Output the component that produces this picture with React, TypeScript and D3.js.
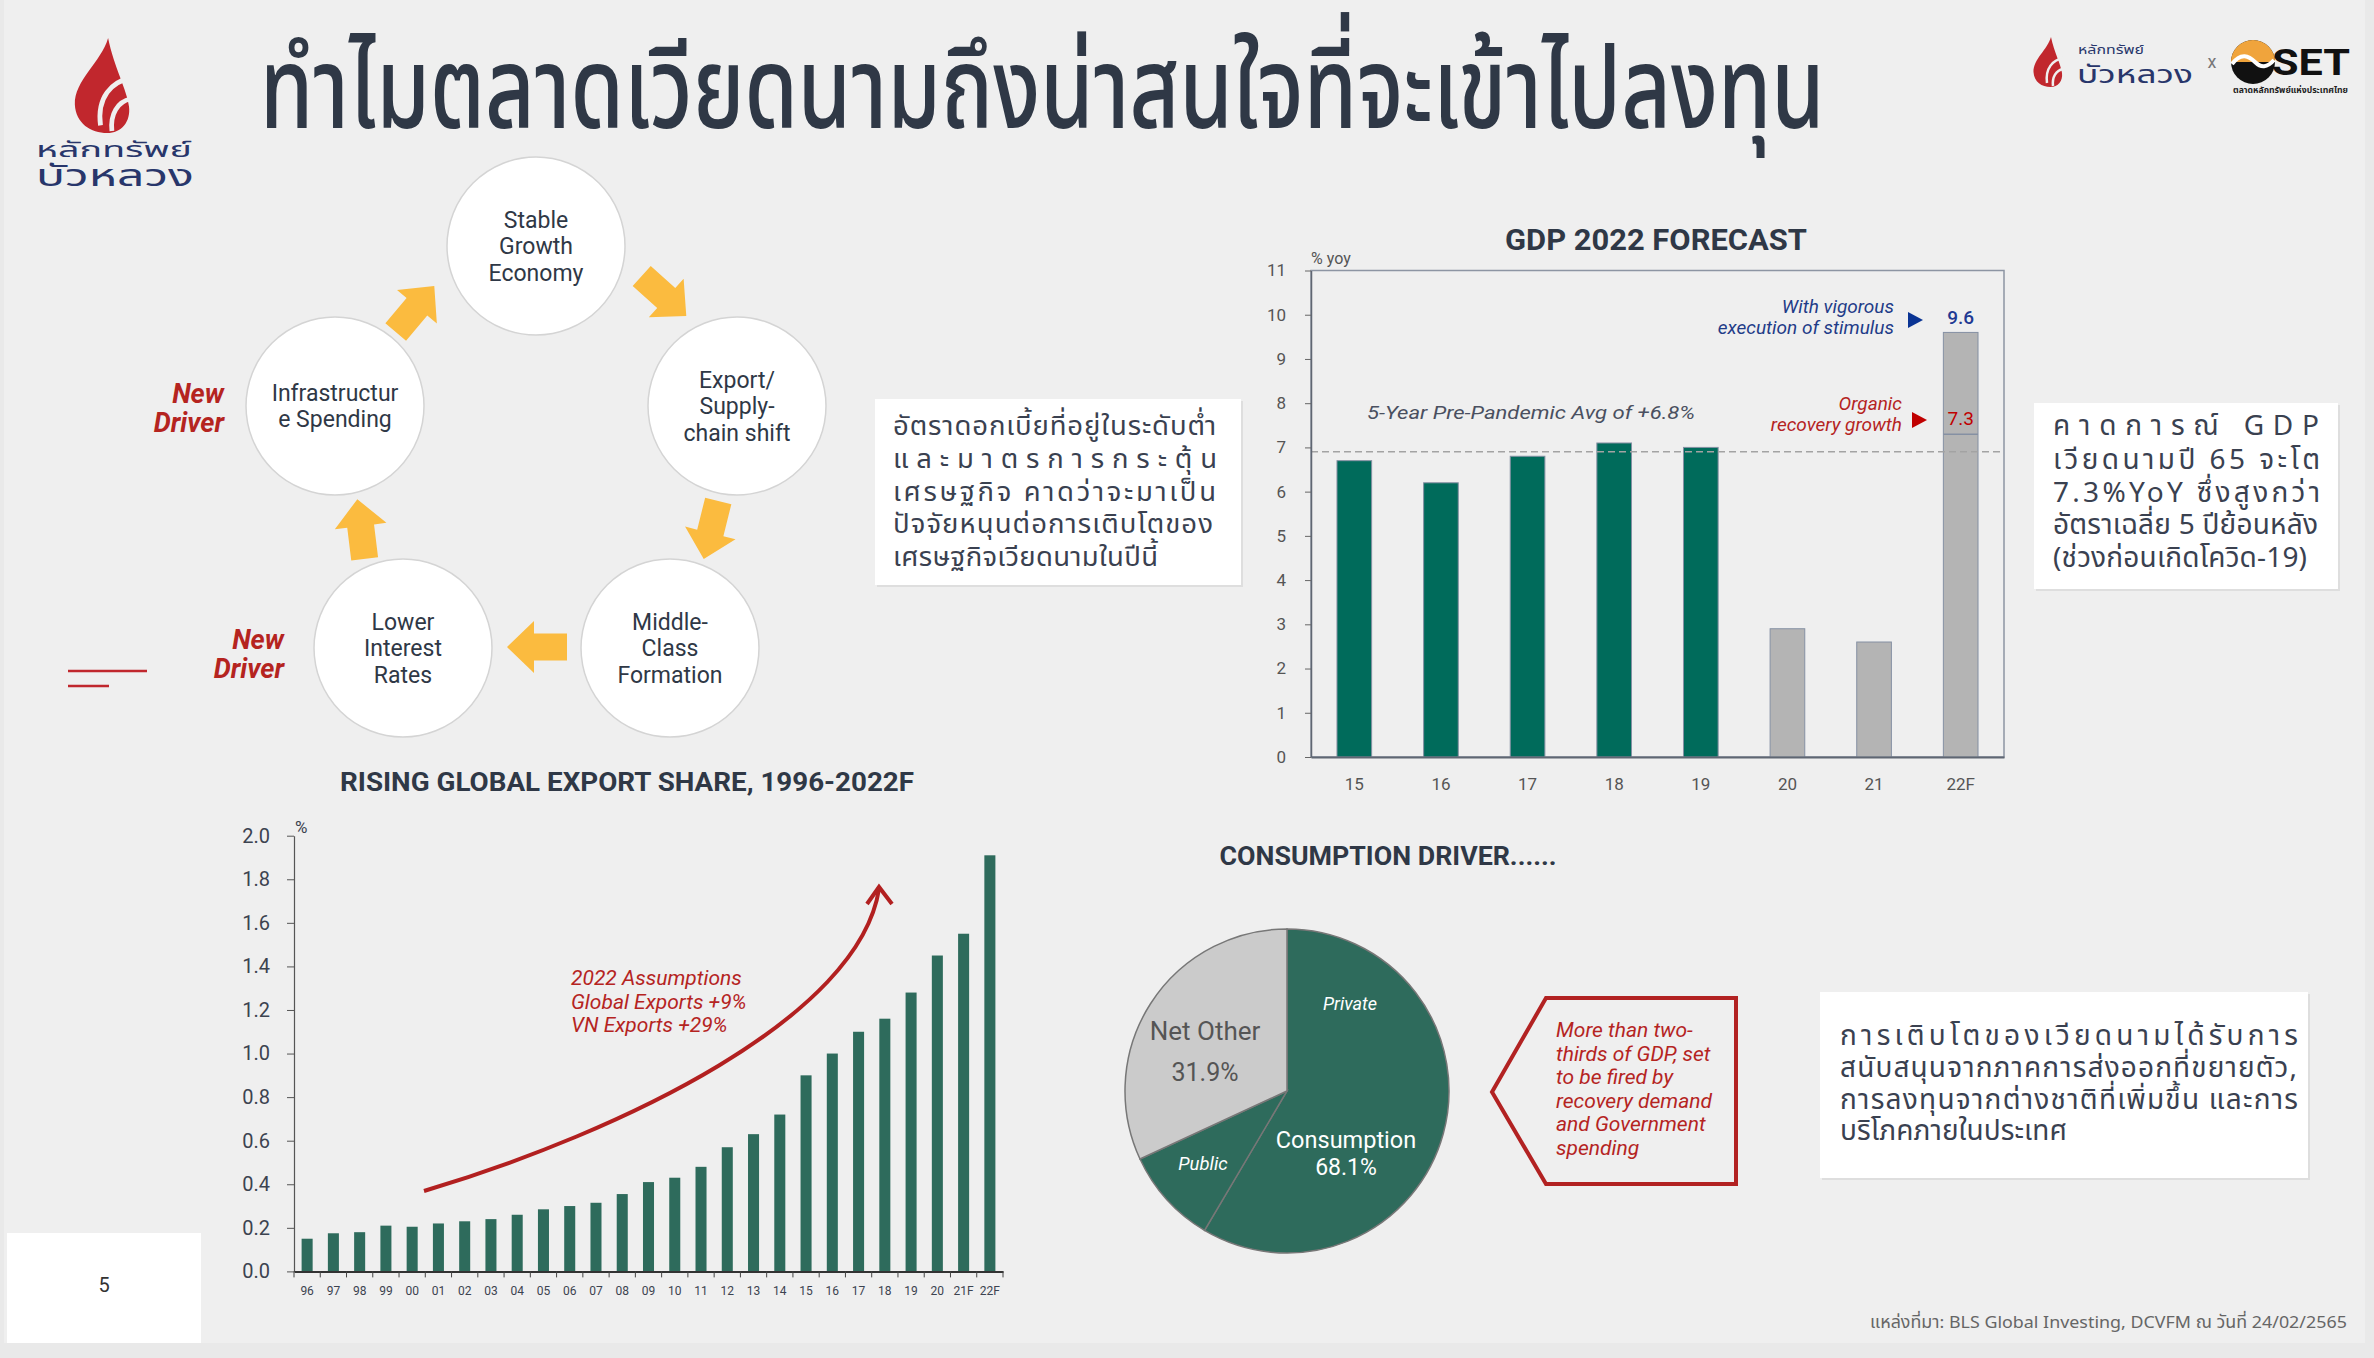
import React, { useEffect, useRef } from 'react';
import * as d3 from 'd3';

const W = 2374;
const H = 1358;

// ---- GDP 2022 forecast (% yoy) ----
const gdpYears = ['15', '16', '17', '18', '19', '20', '21', '22F'];
const gdpValues = [6.7, 6.2, 6.8, 7.1, 7.0, 2.9, 2.6, 9.6];
const gdpActual = [true, true, true, true, true, false, false, false];
const gdpOrganic = 7.3;
const gdpAvg = 6.9;
const gdpTicks = [0, 1, 2, 3, 4, 5, 6, 7, 8, 9, 10, 11];

// ---- Vietnam share of global exports (%) ----
const exportYears = ['96', '97', '98', '99', '00', '01', '02', '03', '04', '05', '06', '07', '08', '09',
  '10', '11', '12', '13', '14', '15', '16', '17', '18', '19', '20', '21F', '22F'];
const exportShare = [0.15, 0.175, 0.18, 0.21, 0.205, 0.22, 0.23, 0.24, 0.26, 0.285, 0.30, 0.315, 0.355, 0.41,
  0.43, 0.48, 0.57, 0.63, 0.72, 0.90, 1.00, 1.10, 1.16, 1.28, 1.45, 1.55, 1.91];
const exportTicks = [0, 0.2, 0.4, 0.6, 0.8, 1.0, 1.2, 1.4, 1.6, 1.8, 2.0];

// ---- consumption pie (% of GDP) ----
const pieLabels = ['Private', 'Public', 'Net Other'];
const pieValues = [58.5, 9.6, 31.9];

// ---- growth cycle ----
const cycleLabels = [
  ['Stable', 'Growth', 'Economy'],
  ['Export/', 'Supply-', 'chain shift'],
  ['Middle-', 'Class', 'Formation'],
  ['Lower', 'Interest', 'Rates'],
  ['Infrastructur', 'e Spending'],
];

const title = 'ทำไมตลาดเวียดนามถึงน่าสนใจที่จะเข้าไปลงทุน';
const box1 = ['อัตราดอกเบี้ยที่อยู่ในระดับต่ำ', 'และมาตรการกระตุ้น', 'เศรษฐกิจ คาดว่าจะมาเป็น', 'ปัจจัยหนุนต่อการเติบโตของ', 'เศรษฐกิจเวียดนามในปีนี้'];
const box2 = ['คาดการณ์ GDP', 'เวียดนามปี 65 จะโต', '7.3%YoY ซึ่งสูงกว่า', 'อัตราเฉลี่ย 5 ปีย้อนหลัง', '(ช่วงก่อนเกิดโควิด-19)'];
const box3 = ['การเติบโตของเวียดนามได้รับการ', 'สนับสนุนจากภาคการส่งออกที่ขยายตัว,', 'การลงทุนจากต่างชาติที่เพิ่มขึ้น และการ', 'บริโภคภายในประเทศ'];
const calloutLines = ['More than two-', 'thirds of GDP, set', 'to be fired by', 'recovery demand', 'and Government', 'spending'];

const EN = "Roboto, 'Noto Sans', sans-serif";
const TH = "'Noto Sans Thai', 'Noto Sans Thai Looped', Sarabun, Loma, Garuda, 'Noto Sans', sans-serif";
const NAVY = '#2f3846';
const GREEN = '#2e6b5c';
const RED = '#b5241f';

type TOpts = { size: number; fill?: string; family?: string; weight?: any; style?: string; anchor?: string; len?: number; adjust?: string };

// Thai marks that sit on a base letter (no spacing of their own)
const isMark = (c: string) => /[\u0E31\u0E34-\u0E3A\u0E47-\u0E4E]/.test(c);

const App: React.FC = () => {
  const ref = useRef<SVGSVGElement>(null);

  useEffect(() => {
    document.body.style.margin = '0';
    const svg = d3.select(ref.current);
    svg.selectAll('*').remove();
    svg.attr('width', W).attr('height', H);

    const text = (g: any, x: number, y: number, s: string, o: TOpts) => {
      const t = g.append('text')
        .attr('x', x).attr('y', y)
        .attr('font-size', o.size)
        .attr('fill', o.fill || NAVY)
        .attr('font-family', o.family || EN)
        .attr('font-weight', o.weight || 400)
        .attr('font-style', o.style || 'normal')
        .attr('text-anchor', o.anchor || 'start')
        .text(s);
      if (o.len) t.attr('textLength', o.len).attr('lengthAdjust', o.adjust || 'spacingAndGlyphs');
      return t;
    };

    // text squeezed/stretched to a width by scaling the whole element
    const fit = (g: any, x: number, y: number, s: string, width: number, o: TOpts) => {
      const t = text(g, 0, 0, s, o);
      const natural = (t.node() as SVGTextElement).getComputedTextLength();
      t.attr('transform', `translate(${x},${y}) scale(${width / natural},1)`);
      return t;
    };

    // justified Thai line: spread with letter-spacing, or squeeze if too long
    const justify = (g: any, x: number, y: number, s: string, target: number, size: number) => {
      const t = text(g, x, y, s, { size, family: TH, fill: '#3a4150' });
      const natural = (t.node() as SVGTextElement).getComputedTextLength();
      const clusters = Array.from(s).filter(c => !isMark(c)).length;
      if (natural > target) {
        t.attr('x', 0).attr('y', 0).attr('transform', `translate(${x},${y}) scale(${target / natural},1)`);
      } else if (clusters > 1) {
        t.attr('letter-spacing', (target - natural) / (clusters - 1));
      }
    };

    // backgrounds
    svg.append('rect').attr('width', W).attr('height', H).attr('fill', '#e9e9e9');
    svg.append('rect').attr('x', 4).attr('y', 0).attr('width', 2361).attr('height', 1343).attr('fill', '#efefef');
    svg.append('rect').attr('x', 7).attr('y', 1233).attr('width', 194).attr('height', 110).attr('fill', '#ffffff');
    text(svg, 104, 1292, '5', { size: 20, anchor: 'middle', fill: '#333' });

    // ---- logos ----
    const flame = (x: number, y: number, s: number) => {
      const g = svg.append('g').attr('transform', `translate(${x},${y}) scale(${s})`);
      g.append('path')
        .attr('d', 'M38,0 C31,25 2,45 3,70 C4,90 20,100 37,100 C52,100 62,88 60,72 C58,55 44,30 38,0 Z')
        .attr('fill', '#c1272d');
      g.append('path').attr('d', 'M62,42 C42,46 26,62 30,92').attr('stroke', '#efefef').attr('stroke-width', 5).attr('fill', 'none');
      g.append('path').attr('d', 'M62,64 C48,67 40,80 42,98').attr('stroke', '#efefef').attr('stroke-width', 5).attr('fill', 'none');
    };
    flame(72, 38, 0.95);
    fit(svg, 36, 157, 'หลักทรัพย์', 156, { size: 22, family: TH, fill: '#28366b' });
    fit(svg, 36, 186, 'บัวหลวง', 158, { size: 30, family: TH, fill: '#28366b' });

    flame(2032, 37, 0.5);
    fit(svg, 2078, 54, 'หลักทรัพย์', 66, { size: 12, family: TH, fill: '#28366b' });
    fit(svg, 2077, 83, 'บัวหลวง', 116, { size: 24, family: TH, fill: '#28366b' });
    text(svg, 2212, 68, 'x', { size: 18, fill: '#777', anchor: 'middle' });
    const setG = svg.append('g').attr('transform', 'translate(2253,62)');
    setG.append('circle').attr('r', 22).attr('fill', '#111');
    setG.append('path').attr('d', 'M-22,0 A22,22 0 0 1 22,0 Z').attr('fill', '#f0a43c');
    setG.append('path').attr('d', 'M-21,2 C-12,-10 -4,-6 2,0 C8,6 14,6 21,-2').attr('stroke', '#fff').attr('stroke-width', 4).attr('fill', 'none');
    fit(svg, 2272, 75, 'SET', 78, { size: 36, weight: 700, fill: '#111' });
    fit(svg, 2233, 93, 'ตลาดหลักทรัพย์แห่งประเทศไทย', 115, { size: 8, family: TH, fill: '#222', weight: 700 });

    // ---- title ----
    fit(svg, 260, 128, title, 1565, { size: 114, family: TH, weight: 500, fill: NAVY });

    // ---- growth cycle ----
    const centers: [number, number][] = [[536, 246], [737, 406], [670, 648], [403, 648], [335, 406]];
    const cyc = svg.append('g');
    cyc.selectAll('circle').data(centers).enter().append('circle')
      .attr('cx', d => d[0]).attr('cy', d => d[1]).attr('r', 89)
      .attr('fill', '#fff').attr('stroke', '#d4d4d4').attr('stroke-width', 1.5);
    cycleLabels.forEach((lines, i) => {
      const [cx, cy] = centers[i];
      const lh = 26.5;
      const y0 = cy - ((lines.length - 1) * lh) / 2 + 8;
      lines.forEach((l, j) => text(cyc, cx, y0 + j * lh, l, { size: 23, anchor: 'middle', fill: NAVY }));
    });
    const arrowPath = 'M-30,-13.5 L3,-13.5 L3,-26 L30,0 L3,26 L3,13.5 L-30,13.5 Z';
    const arrows: [number, number, number][] = [[415, 309, -50], [664, 296, 42], [711, 530, 104], [537, 647, 180], [361, 529, -97]];
    cyc.selectAll('path.arr').data(arrows).enter().append('path').attr('class', 'arr')
      .attr('d', arrowPath)
      .attr('transform', d => `translate(${d[0]},${d[1]}) rotate(${d[2]})`)
      .attr('fill', '#fbbb3f');
    text(svg, 224, 403, 'New', { size: 27, weight: 700, style: 'italic', fill: RED, anchor: 'end' });
    text(svg, 224, 432, 'Driver', { size: 27, weight: 700, style: 'italic', fill: RED, anchor: 'end' });
    text(svg, 284, 649, 'New', { size: 27, weight: 700, style: 'italic', fill: RED, anchor: 'end' });
    text(svg, 284, 678, 'Driver', { size: 27, weight: 700, style: 'italic', fill: RED, anchor: 'end' });
    svg.append('line').attr('x1', 68).attr('x2', 147).attr('y1', 671).attr('y2', 671).attr('stroke', '#c0272d').attr('stroke-width', 2.5);
    svg.append('line').attr('x1', 68).attr('x2', 109).attr('y1', 686).attr('y2', 686).attr('stroke', '#c0272d').attr('stroke-width', 2.5);

    // ---- Thai text boxes ----
    const box = (x: number, y: number, w: number, h: number, lines: string[], tx: number, by: number[], widths: number[], size: number) => {
      svg.append('rect').attr('x', x + 2).attr('y', y + 2).attr('width', w).attr('height', h).attr('fill', '#dedede');
      svg.append('rect').attr('x', x).attr('y', y).attr('width', w).attr('height', h).attr('fill', '#fff');
      lines.forEach((l, i) => justify(svg, tx, by[i], l, widths[i], size));
    };
    box(875, 399, 366, 186, box1, 893, [435, 468, 501, 533, 566], [324, 324, 323, 320, 265], 27.5);
    box(2034, 403, 304, 186, box2, 2053, [435, 469, 502, 534, 567], [266, 267, 267, 265, 254], 28);
    box(1820, 992, 488, 186, box3, 1840, [1045, 1077, 1109, 1140], [458, 457, 458, 227], 28);

    // ---- GDP chart ----
    const gx = d3.scaleBand().domain(gdpYears).range([1311, 2004]).paddingInner(0.6).paddingOuter(0.3);
    const gy = d3.scaleLinear().domain([0, 11]).range([757, 270.5]);
    const gdp = svg.append('g');
    text(gdp, 1656, 250, 'GDP 2022 FORECAST', { size: 29, weight: 700, anchor: 'middle', fill: NAVY, len: 302 });
    text(gdp, 1311, 264, '% yoy', { size: 16, fill: '#555' });
    gdp.append('rect').attr('x', 1311).attr('y', gy(11)).attr('width', 693).attr('height', gy(0) - gy(11))
      .attr('fill', 'none').attr('stroke', '#8d95a3').attr('stroke-width', 1.5);
    gdp.selectAll('rect.bar').data(gdpValues).enter().append('rect').attr('class', 'bar')
      .attr('x', (d, i) => gx(gdpYears[i])!)
      .attr('y', d => gy(d))
      .attr('width', gx.bandwidth())
      .attr('height', d => gy(0) - gy(d))
      .attr('fill', (d, i) => (gdpActual[i] ? '#006b5b' : '#b4b4b4'))
      .attr('stroke', '#8590a3').attr('stroke-width', 1);
    gdp.append('line')
      .attr('x1', gx('22F')!).attr('x2', gx('22F')! + gx.bandwidth())
      .attr('y1', gy(gdpOrganic)).attr('y2', gy(gdpOrganic))
      .attr('stroke', '#8590a3').attr('stroke-width', 1.5);
    gdp.append('line').attr('x1', 1311).attr('x2', 2004).attr('y1', gy(gdpAvg)).attr('y2', gy(gdpAvg))
      .attr('stroke', '#a3a3a3').attr('stroke-width', 1.5).attr('stroke-dasharray', '7,4');
    const gyAxis = gdp.append('g').attr('transform', 'translate(1311,0)')
      .call(d3.axisLeft(gy).tickValues(gdpTicks).tickSize(6).tickPadding(19).tickSizeOuter(0));
    gyAxis.select('.domain').attr('stroke', '#5f6672').attr('stroke-width', 1.5);
    gyAxis.selectAll('line').attr('stroke', '#666');
    gyAxis.selectAll('text').attr('font-size', 17).attr('fill', '#555').attr('font-family', EN);
    const gxAxis = gdp.append('g').attr('transform', `translate(0,${gy(0)})`)
      .call(d3.axisBottom(gx).tickSize(0).tickPadding(21));
    gxAxis.select('.domain').attr('stroke', '#5f6672').attr('stroke-width', 2);
    gxAxis.selectAll('text').attr('font-size', 17).attr('fill', '#555').attr('font-family', EN);
    text(gdp, 1367, 419, '5-Year Pre-Pandemic Avg of +6.8%', { size: 19, style: 'italic', fill: '#4a5060', len: 328 });
    text(gdp, 1894, 313, 'With vigorous', { size: 19, style: 'italic', fill: '#1f3c88', anchor: 'end' });
    text(gdp, 1894, 334, 'execution of stimulus', { size: 19, style: 'italic', fill: '#1f3c88', anchor: 'end' });
    gdp.append('path').attr('d', 'M1908,312 L1923,320 L1908,328 Z').attr('fill', '#0a3494');
    text(gdp, gx('22F')! + gx.bandwidth() / 2, 324, String(gdpValues[7]), { size: 19, weight: 500, fill: '#1f3a93', anchor: 'middle' });
    text(gdp, 1902, 410, 'Organic', { size: 19, style: 'italic', fill: RED, anchor: 'end' });
    text(gdp, 1902, 431, 'recovery growth', { size: 19, style: 'italic', fill: RED, anchor: 'end' });
    gdp.append('path').attr('d', 'M1912,412 L1927,420 L1912,428 Z').attr('fill', '#c00000');
    text(gdp, gx('22F')! + gx.bandwidth() / 2, 425, String(gdpOrganic), { size: 19, weight: 400, fill: '#c00000', anchor: 'middle' });

    // ---- export share chart ----
    const ex = d3.scaleBand().domain(exportYears).range([294, 1003]).paddingInner(0.58).paddingOuter(0.29);
    const ey = d3.scaleLinear().domain([0, 2]).range([1271.4, 835.7]);
    const exg = svg.append('g');
    text(exg, 627, 791, 'RISING GLOBAL EXPORT SHARE, 1996-2022F', { size: 25, weight: 700, anchor: 'middle', fill: NAVY, len: 574 });
    exg.selectAll('rect.bar').data(exportShare).enter().append('rect').attr('class', 'bar')
      .attr('x', (d, i) => ex(exportYears[i])!)
      .attr('y', d => ey(d))
      .attr('width', ex.bandwidth())
      .attr('height', d => ey(0) - ey(d))
      .attr('fill', GREEN);
    const eyAxis = exg.append('g').attr('transform', 'translate(294,0)')
      .call(d3.axisLeft(ey).tickValues(exportTicks).tickFormat(d3.format('.1f')).tickSize(7).tickPadding(17).tickSizeOuter(0));
    eyAxis.select('.domain').attr('stroke', '#555').attr('stroke-width', 1.2);
    eyAxis.selectAll('line').attr('stroke', '#555');
    eyAxis.selectAll('text').attr('font-size', 20).attr('fill', '#3c4350').attr('font-family', EN);
    text(exg, 295, 833, '%', { size: 17, fill: '#3c4350' });
    const exAxis = exg.append('g').attr('transform', `translate(0,${ey(0)})`)
      .call(d3.axisBottom(ex).tickSize(0).tickPadding(15));
    exAxis.select('.domain').attr('stroke', '#333').attr('stroke-width', 2);
    exAxis.selectAll('text').attr('font-size', 12).attr('fill', '#3c4350').attr('font-family', EN);
    const bounds = exportYears.map(d => ex(d)! - (ex.step() * ex.paddingInner()) / 2).concat([1003]);
    exg.selectAll('line.bt').data(bounds).enter().append('line').attr('class', 'bt')
      .attr('x1', d => d).attr('x2', d => d).attr('y1', ey(0)).attr('y2', ey(0) + 6)
      .attr('stroke', '#444').attr('stroke-width', 1);
    exg.append('path').attr('d', 'M424,1191 C624,1131 859,1017 879,889')
      .attr('fill', 'none').attr('stroke', '#b22020').attr('stroke-width', 4);
    exg.append('path').attr('d', 'M867,904 L879,887 L892,904')
      .attr('fill', 'none').attr('stroke', '#b22020').attr('stroke-width', 4);
    text(exg, 571, 985, '2022 Assumptions', { size: 21, style: 'italic', fill: RED });
    text(exg, 571, 1009, 'Global Exports +9%', { size: 21, style: 'italic', fill: RED });
    text(exg, 571, 1032, 'VN Exports +29%', { size: 21, style: 'italic', fill: RED });

    // ---- consumption pie ----
    const pg = svg.append('g');
    text(pg, 1388, 865, 'CONSUMPTION DRIVER......', { size: 25, weight: 700, anchor: 'middle', fill: NAVY, len: 337 });
    const pieG = pg.append('g').attr('transform', 'translate(1287,1091)');
    const arcs = d3.pie<number>().sort(null).value(d => d)(pieValues);
    const arc = d3.arc<d3.PieArcDatum<number>>().innerRadius(0).outerRadius(162);
    pieG.selectAll('path').data(arcs).enter().append('path')
      .attr('d', arc as any)
      .attr('fill', (d, i) => (i < 2 ? GREEN : '#cbcbcb'))
      .attr('stroke', '#777').attr('stroke-width', 1.5);
    text(pieG, 63, -81, pieLabels[0], { size: 18, style: 'italic', fill: '#fff', anchor: 'middle' });
    text(pieG, -84, 79, pieLabels[1], { size: 18.5, style: 'italic', fill: '#fff', anchor: 'middle' });
    text(pieG, -82, -51, pieLabels[2], { size: 26, fill: '#555', anchor: 'middle' });
    text(pieG, -82, -10, `${pieValues[2]}%`, { size: 25, fill: '#555', anchor: 'middle' });
    text(pieG, 59, 57, 'Consumption', { size: 23.5, fill: '#fff', anchor: 'middle' });
    text(pieG, 59, 84, `${d3.sum(pieValues.slice(0, 2)).toFixed(1)}%`, { size: 23, fill: '#fff', anchor: 'middle' });
    pg.append('path').attr('d', 'M1492,1092 L1546,998 L1736,998 L1736,1184 L1546,1184 Z')
      .attr('fill', 'none').attr('stroke', '#b22222').attr('stroke-width', 4);
    calloutLines.forEach((l, i) => text(pg, 1556, 1037 + i * 23.6, l, { size: 21, style: 'italic', fill: RED }));

    // ---- source ----
    fit(svg, 1870, 1328, 'แหล่งที่มา: BLS Global Investing, DCVFM ณ วันที่ 24/02/2565', 477, { size: 17, family: TH, fill: '#666' });
  }, []);

  return <svg ref={ref} style={{ position: 'absolute', left: 0, top: 0, display: 'block' }}></svg>;
};

export default App;
